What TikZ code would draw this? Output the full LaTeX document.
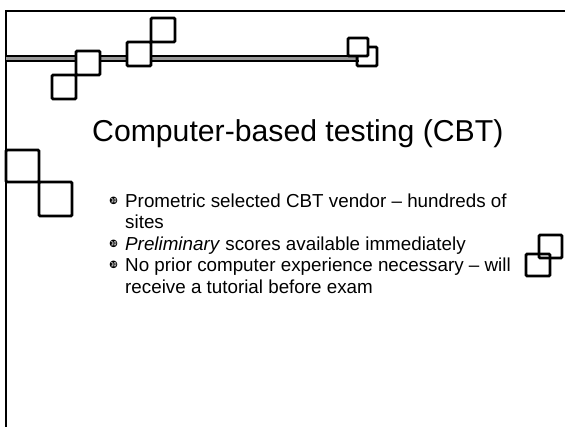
\documentclass[tikz,border=0pt]{standalone}
\usepackage{fontspec}
\setmainfont{Liberation Sans}
\newfontfamily\dingfont{DejaVu Sans}
\begin{document}
\begin{tikzpicture}[x=1pt,y=-1pt,
  frameline/.style={line width=2.6pt,black},
  sq/.style={draw=black,line width=2.8pt,rounded corners=1.2pt},
  bodytext/.style={anchor=base west,inner sep=0pt,font=\fontsize{18.8}{22}\selectfont,text=black},
  bulletmark/.style={anchor=center,inner sep=0pt,font=\dingfont\fontsize{10}{10}\selectfont}]
\useasboundingbox (0,0) rectangle (565,426);
% outer frame
\coordinate (tl) at (6,11);
\coordinate (tr) at (566,11);
\coordinate (bl) at (6,427);
\draw[frameline] (tr) -- (tl) -- (bl);
% double rule under the top frame
\coordinate (rl) at (6,58.5);
\coordinate (rr) at (359,58.5);
\draw[black,line width=7pt] (rl) -- (rr);
\draw[black!40,line width=2.2pt] (rl) -- (rr);
% squares along the rule
\draw[sq] (52,75) rectangle (76,99);
\draw[sq,fill=white] (76,51) rectangle (100,75);
\draw[sq,fill=white] (127,42) rectangle (151,66);
\draw[sq] (151,18) rectangle (175,42);
\draw[sq] (357,47) rectangle (377,66);
\draw[sq,fill=white] (348,38) rectangle (368,56);
% squares on the left
\draw[sq] (6,150) rectangle (39,182);
\draw[sq] (39,182) rectangle (72,216);
% squares on the right
\draw[sq] (539,235) rectangle (562,258);
\draw[sq] (526,254) rectangle (550,276);
% title
\node[anchor=base west,inner sep=0pt,font=\fontsize{30.2}{36}\selectfont,text=black] (title) at (92,141) {Computer-based testing (CBT)};
% bullet list
\node[bodytext] (l1) at (125,207) {Prometric selected CBT vendor -- hundreds of};
\node[bodytext] (l2) at (125,228.5) {sites};
\node[bodytext] (l3) at (125,250) {\textit{Preliminary} scores available immediately};
\node[bodytext] (l4) at (125,271.5) {No prior computer experience necessary -- will};
\node[bodytext] (l5) at (125,293) {receive a tutorial before exam};
\node[bulletmark] (b1) at (113.5,200.5) {❿};
\node[bulletmark] (b3) at (113.5,243.5) {❿};
\node[bulletmark] (b4) at (113.5,265) {❿};
\end{tikzpicture}
\end{document}
